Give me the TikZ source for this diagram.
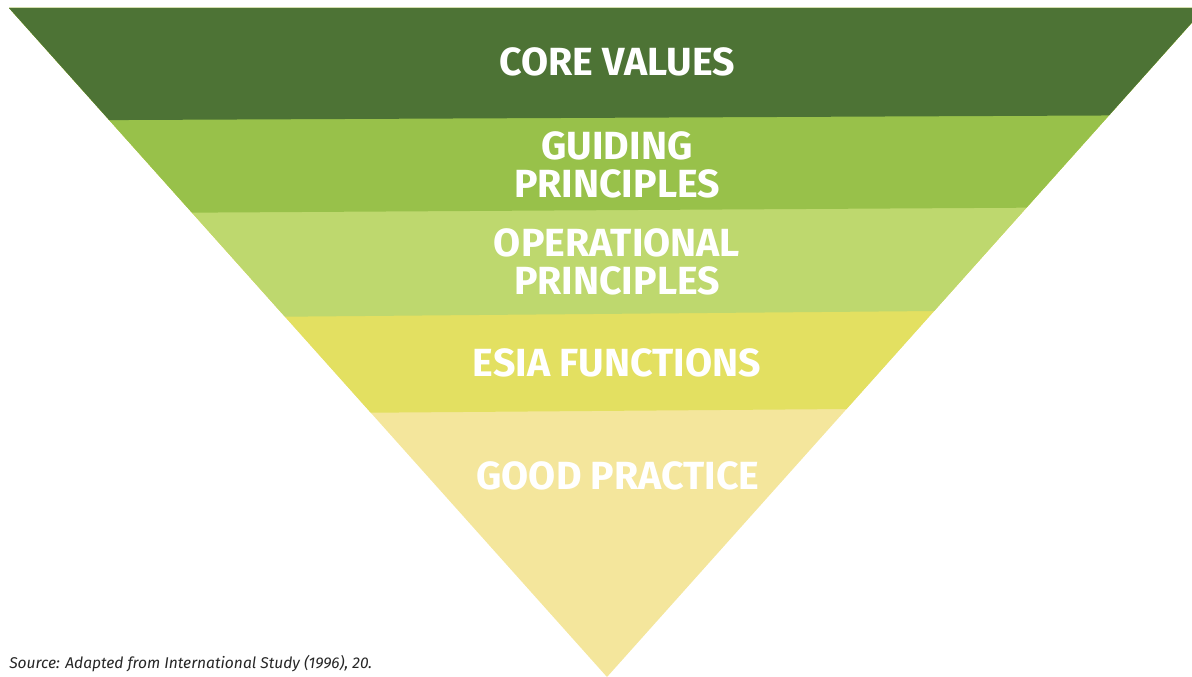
\documentclass[tikz,border=0pt]{standalone}
\usepackage{fontspec}
\setmainfont{Fira Sans}
\usepackage{tikz}
\usepackage{xcolor}

\definecolor{corecol}{HTML}{4D7335}
\definecolor{guidecol}{HTML}{98C14A}
\definecolor{opercol}{HTML}{BED86E}
\definecolor{esiacol}{HTML}{E3E061}
\definecolor{goodcol}{HTML}{F4E69C}

\tikzset{
    levellabel/.style={text=white, font=\fontsize{29.5}{28}\selectfont\bfseries, align=center, inner sep=0pt},
    sourcenote/.style={font=\fontsize{11.7}{13}\selectfont\itshape, text=black!85, anchor=base west, inner sep=0pt}
}

\begin{document}
\begin{tikzpicture}[x=0.0264cm, y=-0.0264cm]
        \useasboundingbox (0,0) rectangle (1192,677);

        \begin{scope}
            % Clip to the inverted triangle
            \clip (9,8) -- (1205,8) -- (607,677) -- cycle;

            % Bottom level fills the whole triangle
            \fill[goodcol] (0,0) rectangle (1210,680);

            % Bands from bottom to top
            \fill[esiacol] (0,0) -- (1210,0) -- (1210,406.2) -- (0,415.6) -- cycle;
            \fill[opercol] (0,0) -- (1210,0) -- (1210,308.6) -- (0,319.2) -- cycle;
            \fill[guidecol] (0,0) -- (1210,0) -- (1210,206.6) -- (0,213.8) -- cycle;
            \fill[corecol] (0,0) -- (1210,0) -- (1210,115.0) -- (0,120.6) -- cycle;
        \end{scope}

        % Level labels
        \node[levellabel] (core) at (617,62) {CORE VALUES};
        \node[levellabel] (guiding) at (617,165) {GUIDING\\PRINCIPLES};
        \node[levellabel] (operational) at (617,262) {OPERATIONAL\\PRINCIPLES};
        \node[levellabel] (esia) at (617,363) {ESIA FUNCTIONS};
        \node[levellabel] (good) at (618,476) {GOOD PRACTICE};

        % Source line
        \node[sourcenote] (source) at (9,668) {Source: Adapted from International Study (1996), 20.};

    \end{tikzpicture}
\end{document}
